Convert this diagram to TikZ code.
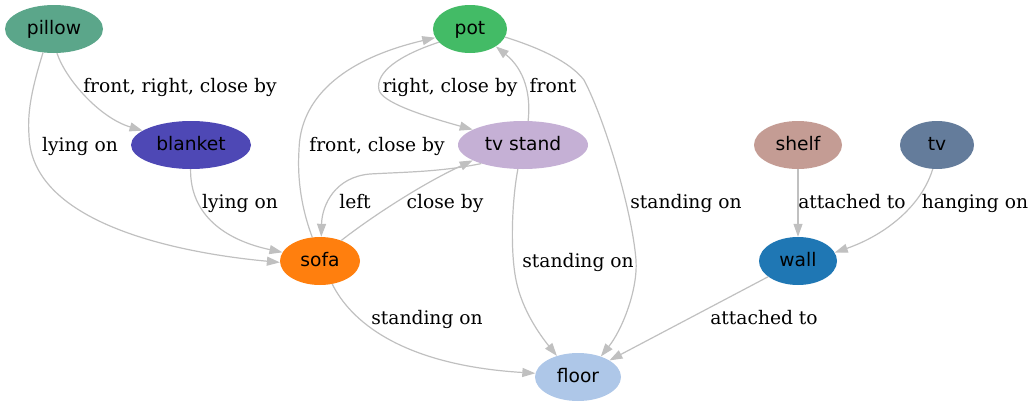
\documentclass[tikz,border=0pt]{standalone}
\usepackage{fontspec}
\setmainfont{DejaVu Serif}
\newfontfamily\nodefont{DejaVu Sans}
\usetikzlibrary{shapes.geometric,arrows.meta}
\definecolor{edgegray}{HTML}{C0C0C0}
\definecolor{cpillow}{HTML}{5BA68A}
\definecolor{cpot}{HTML}{43BB66}
\definecolor{cblanket}{HTML}{4E48B5}
\definecolor{ctvstand}{HTML}{C5B0D5}
\definecolor{cshelf}{HTML}{C49C94}
\definecolor{ctv}{HTML}{647C9B}
\definecolor{csofa}{HTML}{FF7F0E}
\definecolor{cwall}{HTML}{1F77B4}
\definecolor{cfloor}{HTML}{AEC7E8}
\tikzset{
  obj/.style={ellipse, inner sep=0pt, minimum height=48pt,
    font=\nodefont\fontsize{18.67}{20}\selectfont, text height=14pt, text depth=3pt},
  lbl/.style={font=\fontsize{18.67}{20}\selectfont, inner sep=0pt, anchor=base},
  rel/.style={draw=edgegray, line width=1.2pt, -{Triangle[length=13pt,width=9pt]}},
}
\begin{document}
\begin{tikzpicture}[x=1pt,y=-1pt]
\useasboundingbox (0,0) rectangle (1034,407);
% nodes
\node[obj, fill=cpillow, minimum width=98pt] (pillow) at (54,29) {pillow};
\node[obj, fill=cpot, minimum width=74pt] (pot) at (470,29) {pot};
\node[obj, fill=cblanket, minimum width=120pt] (blanket) at (191,145) {blanket};
\node[obj, fill=ctvstand, minimum width=130pt] (tvstand) at (523,145) {tv stand};
\node[obj, fill=cshelf, minimum width=88pt] (shelf) at (798,145) {shelf};
\node[obj, fill=ctv, minimum width=74pt] (tv) at (937,145) {tv};
\node[obj, fill=csofa, minimum width=80pt] (sofa) at (320,261) {sofa};
\node[obj, fill=cwall, minimum width=78pt] (wall) at (798,261) {wall};
\node[obj, fill=cfloor, minimum width=86pt] (floor) at (578,377) {floor};
% edges
\draw[rel] (pillow.-83) .. controls (66,80) and (100,118) .. (blanket);
\draw[rel] (pillow.-115) .. controls (33,85) and (27,110) .. (29,135) .. controls (31,230) and (200,255) .. (sofa.182);
\draw[rel] (blanket.-91) .. controls (190,215) and (225,240) .. (sofa.167);
\draw[rel] (sofa.108) .. controls (302,210) and (297,180) .. (299,150) .. controls (300,100) and (340,60) .. (pot.194);
\draw[rel] (pot.203) .. controls (400,55) and (375,72) .. (379,90) .. controls (382,102) and (420,115) .. (tvstand.163);
\draw[rel] (tvstand.78) .. controls (531,95) and (525,70) .. (pot.-34);
\draw[rel] (pot.-13) .. controls (540,48) and (570,62) .. (584,80) .. controls (605,120) and (632,210) .. (636,260) .. controls (638,290) and (622,330) .. (floor.42);
\draw[rel] (tvstand.-102) .. controls (512,200) and (510,250) .. (516,280) .. controls (522,310) and (540,335) .. (floor.135);
\draw[rel] (sofa.44) .. controls (370,218) and (420,185) .. (tvstand.197);
\draw[rel] (tvstand.204) .. controls (440,172) and (405,172) .. (370,174) .. controls (335,177) and (322,205) .. (sofa.87);
\draw[rel] (sofa.-62) .. controls (350,320) and (400,365) .. (floor.175);
\draw[rel] (shelf) -- (wall);
\draw[rel] (tv.-100) .. controls (920,210) and (880,237) .. (wall.13);
\draw[rel] (wall) -- (floor);
% labels
\node[lbl] (l1) at (180,92) {front, right, close by};
\node[lbl] (l2) at (80,151) {lying on};
\node[lbl] (l3) at (240,208) {lying on};
\node[lbl] (l4) at (377,151) {front, close by};
\node[lbl] (l5) at (450,92) {right, close by};
\node[lbl] (l6) at (553,92) {front};
\node[lbl] (l7) at (355,208) {left};
\node[lbl] (l8) at (445,208) {close by};
\node[lbl] (l9) at (686,208) {standing on};
\node[lbl] (l10) at (578,267) {standing on};
\node[lbl] (l11) at (427,324) {standing on};
\node[lbl] (l12) at (852,208) {attached to};
\node[lbl] (l13) at (975,208) {hanging on};
\node[lbl] (l14) at (764,324) {attached to};
\end{tikzpicture}
\end{document}
